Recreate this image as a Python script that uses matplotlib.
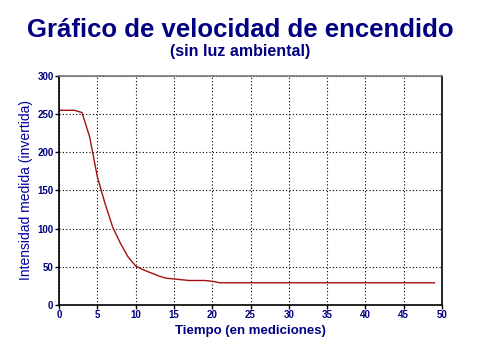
import matplotlib.pyplot as plt

# medidas (tiempo en mediciones, intensidad invertida)
tiempo = list(range(50))
intensidad = [255, 255, 255, 252, 220, 168, 133, 102, 81, 63,
              51, 46, 42, 38, 35, 34, 33, 32, 32, 32,
              31, 29] + [29] * 28

x_ticks = list(range(0, 51, 5))
y_ticks = list(range(0, 301, 50))

navy = '#000080'
plt.rcParams['font.family'] = ['Liberation Sans', 'DejaVu Sans']

fig = plt.figure(figsize=(4.8, 3.6), dpi=100)
ax = fig.add_axes([0.123, 0.153, 0.798, 0.636])

# curva de encendido
ax.plot(tiempo, intensidad, color='#a01010', linewidth=1)

ax.set_xlim(0, 50)
ax.set_ylim(0, 300)
ax.set_xticks(x_ticks)
ax.set_yticks(y_ticks)
ax.tick_params(labelsize=7, labelcolor=navy, length=3, width=1, pad=1)
for lbl in ax.get_xticklabels() + ax.get_yticklabels():
    lbl.set_fontweight('bold')
ax.grid(True, color='black', linestyle=(0, (1, 2)), linewidth=0.8)

for side in ['left', 'bottom', 'right']:
    ax.spines[side].set_color('black')
    ax.spines[side].set_linewidth(1.2)
ax.spines['top'].set_color('#777777')
ax.spines['top'].set_linewidth(1.2)

ax.set_xlabel('Tiempo (en mediciones)', fontsize=9.5, color=navy,
              fontweight='bold', labelpad=3)
ax.set_ylabel('Intensidad medida (invertida)', fontsize=10, color='#0000a0',
              labelpad=3)

fig.text(0.5, 0.918, 'Gráfico de velocidad de encendido', ha='center',
         va='center', fontsize=18.5, fontweight='bold', color=navy)
fig.text(0.5, 0.858, '(sin luz ambiental)', ha='center', va='center',
         fontsize=11.5, fontweight='bold', color=navy)

fig.savefig('out.png', dpi=100)
